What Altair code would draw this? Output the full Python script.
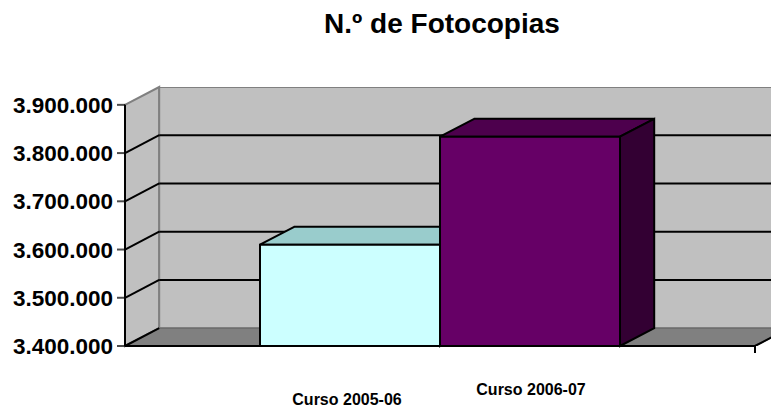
import altair as alt
import pandas as pd

# ---- data ----
categories = ["Curso 2005-06", "Curso 2006-07"]
values = [3610000, 3834000]
front_colors = ["#CCFFFF", "#660066"]
top_colors = ["#99CCCC", "#4D004D"]
side_colors = ["#669999", "#330033"]
tick_values = [3400000, 3500000, 3600000, 3700000, 3800000, 3900000]
tick_labels = ["3.400.000", "3.500.000", "3.600.000", "3.700.000", "3.800.000", "3.900.000"]
title_text = "N.º de Fotocopias"

# ---- 3D geometry (style constants) ----
Y_MIN = tick_values[0]
Y_TOP = tick_values[-1]
DEPTH_Y = 37000          # depth offset expressed in value units
Y_VIEW_MAX = Y_TOP + DEPTH_Y
X_LEFT, X_RIGHT = -1.25, 2.25   # floor extent in category units
DEPTH_X = 0.19
W, H = 646, 259
X_VIEW_MAX = X_LEFT + W / 180.0

xs = alt.Scale(domain=[X_LEFT, X_VIEW_MAX], nice=False, zero=False)
ys = alt.Scale(domain=[Y_MIN, Y_VIEW_MAX], nice=False, zero=False)
FONT = "Liberation Sans"

def X(f="x"):
    return alt.X(f"{f}:Q", scale=xs, axis=None)

def Yc(f="y"):
    return alt.Y(f"{f}:Q", scale=ys, axis=None)

# walls and floor
left_wall = pd.DataFrame({"x": [X_LEFT, X_LEFT + DEPTH_X],
                          "y": [Y_MIN, Y_MIN + DEPTH_Y],
                          "y2": [Y_TOP, Y_TOP + DEPTH_Y]})
back_wall = pd.DataFrame({"x": [X_LEFT + DEPTH_X], "x2": [X_RIGHT + DEPTH_X],
                          "y": [Y_MIN + DEPTH_Y], "y2": [Y_TOP + DEPTH_Y]})
floor = pd.DataFrame({"y": [Y_MIN, Y_MIN + DEPTH_Y],
                      "x": [X_LEFT, X_LEFT + DEPTH_X],
                      "x2": [X_RIGHT, X_RIGHT + DEPTH_X]})

left_grid = pd.DataFrame({"x": X_LEFT, "x2": X_LEFT + DEPTH_X,
                          "y": tick_values[:-1],
                          "y2": [v + DEPTH_Y for v in tick_values[:-1]]})
back_grid = pd.DataFrame({"x": X_LEFT + DEPTH_X, "x2": X_RIGHT + DEPTH_X,
                          "y": [v + DEPTH_Y for v in tick_values[1:-1]]})
front_axis = pd.DataFrame({"x": [X_LEFT], "y": [Y_MIN], "y2": [Y_TOP]})
axis_ticks = pd.DataFrame({"x": X_LEFT, "y": tick_values, "label": tick_labels})
floor_front = pd.DataFrame({"x": [X_LEFT], "x2": [X_RIGHT], "y": [Y_MIN]})
floor_right = pd.DataFrame({"x": [X_RIGHT], "x2": [X_RIGHT + DEPTH_X],
                            "y": [Y_MIN], "y2": [Y_MIN + DEPTH_Y]})

# bars
idx = list(range(len(categories)))
bars = pd.DataFrame({"i": idx, "cat": categories, "value": values,
                     "x": [i - 0.5 for i in idx], "x2": [i + 0.5 for i in idx],
                     "color": front_colors})
top_rows, side_rows = [], []
for i, v in zip(idx, values):
    top_rows.append({"i": i, "y": v, "x": i - 0.5, "x2": i + 0.5, "color": top_colors[i]})
    top_rows.append({"i": i, "y": v + DEPTH_Y, "x": i - 0.5 + DEPTH_X,
                     "x2": i + 0.5 + DEPTH_X, "color": top_colors[i]})
    side_rows.append({"i": i, "x": i + 0.5, "y": Y_MIN, "y2": v, "color": side_colors[i]})
    side_rows.append({"i": i, "x": i + 0.5 + DEPTH_X, "y": Y_MIN + DEPTH_Y,
                      "y2": v + DEPTH_Y, "color": side_colors[i]})
tops = pd.DataFrame(top_rows)
sides = pd.DataFrame(side_rows)

GRAY = "#808080"

l_left_wall = alt.Chart(left_wall).mark_area(
    orient="vertical", color="#C0C0C0", stroke=GRAY, strokeWidth=2
).encode(x=X(), y=Yc(), y2="y2:Q")

l_back_wall = alt.Chart(back_wall).mark_rect(
    color="#C0C0C0", stroke=GRAY, strokeWidth=2, clip=True
).encode(x=X(), x2="x2:Q", y=Yc(), y2="y2:Q")

l_floor = alt.Chart(floor).mark_area(
    orient="horizontal", color=GRAY, stroke="#6E6E6E", strokeWidth=1.5, clip=True
).encode(y=Yc(), x=X(), x2="x2:Q")

l_left_grid = alt.Chart(left_grid).mark_rule(color="black", strokeWidth=2).encode(
    x=X(), x2="x2:Q", y=Yc(), y2="y2:Q")

l_back_grid = alt.Chart(back_grid).mark_rule(color="black", strokeWidth=2, clip=True).encode(
    x=X(), x2="x2:Q", y=Yc())

l_front_axis = alt.Chart(front_axis).mark_rule(color="black", strokeWidth=2).encode(
    x=X(), y=Yc(), y2="y2:Q")

l_axis_ticks = alt.Chart(axis_ticks).mark_tick(
    orient="horizontal", color="black", thickness=2, size=8, xOffset=-4
).encode(x=X(), y=Yc())

l_axis_labels = alt.Chart(axis_ticks).mark_text(
    font=FONT, fontSize=22.5, fontWeight="bold", color="black",
    align="right", baseline="middle", dx=-12, dy=1
).encode(x=X(), y=Yc(), text="label:N")

l_floor_front = alt.Chart(floor_front).mark_rule(color="black", strokeWidth=2).encode(
    x=X(), x2="x2:Q", y=Yc())

l_floor_tick = alt.Chart(floor_front).mark_rule(color="black", strokeWidth=2).encode(
    x=X("x2"), y=Yc(), y2=alt.value(H + 7))

l_floor_right = alt.Chart(floor_right).mark_rule(color="black", strokeWidth=2, clip=True).encode(
    x=X(), x2="x2:Q", y=Yc(), y2="y2:Q")

l_tops = alt.Chart(tops).mark_area(orient="horizontal", stroke="black", strokeWidth=2).encode(
    y=Yc(), x=X(), x2="x2:Q", detail="i:N",
    color=alt.Color("color:N", scale=None))

l_sides = alt.Chart(sides).mark_area(orient="vertical", stroke="black", strokeWidth=2).encode(
    x=X(), y=Yc(), y2="y2:Q", detail="i:N",
    color=alt.Color("color:N", scale=None))

l_fronts = alt.Chart(bars).mark_rect(stroke="black", strokeWidth=2).encode(
    x=X(), x2="x2:Q",
    y=alt.Y("value:Q", scale=ys, axis=None),
    y2=alt.datum(Y_MIN),
    color=alt.Color("color:N", scale=None))

l_lab_low = alt.Chart(bars).transform_filter("datum.i % 2 == 0").mark_text(
    font=FONT, fontSize=16, fontWeight="bold", color="black",
    baseline="alphabetic", dy=59, dx=-3
).encode(x=alt.X("i:Q", scale=xs, axis=None), y=alt.value(H), text="cat:N")
l_lab_high = alt.Chart(bars).transform_filter("datum.i % 2 == 1").mark_text(
    font=FONT, fontSize=16, fontWeight="bold", color="black",
    baseline="alphabetic", dy=49, dx=1
).encode(x=alt.X("i:Q", scale=xs, axis=None), y=alt.value(H), text="cat:N")

chart = alt.layer(
    l_left_wall, l_back_wall, l_floor, l_left_grid, l_back_grid,
    l_tops, l_sides, l_fronts,
    l_front_axis, l_axis_ticks, l_axis_labels,
    l_floor_front, l_floor_tick, l_floor_right,
    l_lab_low, l_lab_high,
).properties(
    width=W, height=H,
    title=alt.TitleParams(title_text, font=FONT, fontSize=28, fontWeight="bold",
                          color="black", anchor="middle", dx=-6, offset=44),
    autosize=alt.AutoSizeParams(type="none"),
    padding={"left": 117, "top": 79, "right": 0, "bottom": 62},
    background="white",
).configure_view(strokeWidth=0)

chart.save("out.html", embed_options={"renderer": "svg", "actions": False})
